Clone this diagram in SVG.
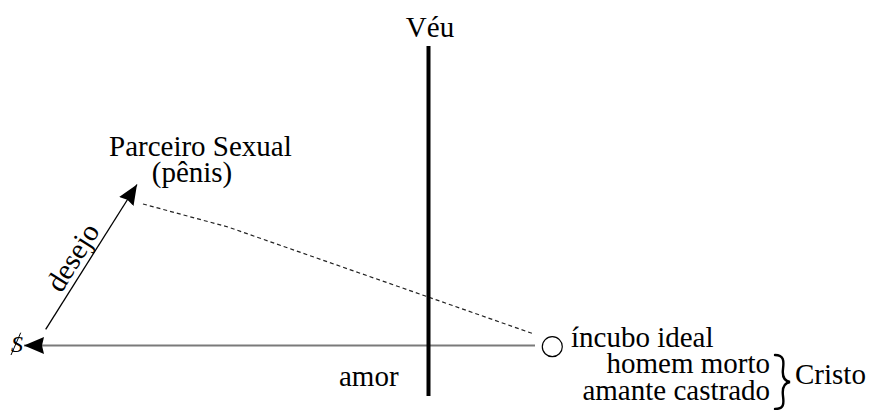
<svg xmlns="http://www.w3.org/2000/svg" width="871" height="410" viewBox="0 0 871 410">
<style>
.t{font-family:'Liberation Serif','Times New Roman',serif;font-size:29px;fill:#000}
.dash{fill:none;stroke:#222;stroke-width:1.2;stroke-dasharray:4 3}
</style>
<defs>
<marker id="ah" markerWidth="22" markerHeight="20" viewBox="0 -10 22 20" refX="20" refY="0" orient="auto" markerUnits="userSpaceOnUse">
<path d="M0,-8.5 L20,0 L0,8.5 L2,0 z" fill="#000"/>
</marker>
</defs>
<rect width="871" height="410" fill="#fff"/>
<g id="connectors">
<line x1="535" y1="345.5" x2="24" y2="345.5" stroke="#7a7a7a" stroke-width="2" marker-end="url(#ah)"/>
<line x1="45.7" y1="329.3" x2="137" y2="184.5" stroke="#000" stroke-width="1.3" marker-end="url(#ah)"/>
<polyline class="dash" points="143,204 228,227 534,334"/>
<text class="t" transform="translate(80.8,262.4) rotate(-58)" text-anchor="middle">desejo</text>
<text class="t" x="339" y="386">amor</text>
</g>
<g id="veu">
<line x1="428.5" y1="46" x2="428.5" y2="396" stroke="#000" stroke-width="4"/>
<text class="t" x="430" y="37" text-anchor="middle">Véu</text>
</g>
<g id="parceiro">
<text class="t" x="109" y="156">Parceiro Sexual</text>
<text class="t" x="192" y="182" text-anchor="middle">(pênis)</text>
</g>
<g id="sujeito">
<text class="t" x="11" y="352" font-style="italic" style="font-size:24px">S</text>
<line x1="20.7" y1="332.7" x2="11" y2="355" stroke="#000" stroke-width="1"/>
</g>
<g id="incubo">
<circle cx="552.3" cy="346.7" r="10" fill="none" stroke="#000" stroke-width="1.2"/>
<text class="t" x="571" y="347">íncubo ideal</text>
<text class="t" x="770" y="373" text-anchor="end">homem morto</text>
<text class="t" x="770" y="400" text-anchor="end">amante castrado</text>
</g>
<g id="cristo">
<path d="M775,355 C784,355 784,361 783,369 C782,377 784,381 790,382 C784,383 782,388 783,396 C784,404 784,409 775,409" fill="none" stroke="#000" stroke-width="2.4" stroke-linecap="round"/>
<text class="t" x="795" y="384">Cristo</text>
</g>
</svg>
